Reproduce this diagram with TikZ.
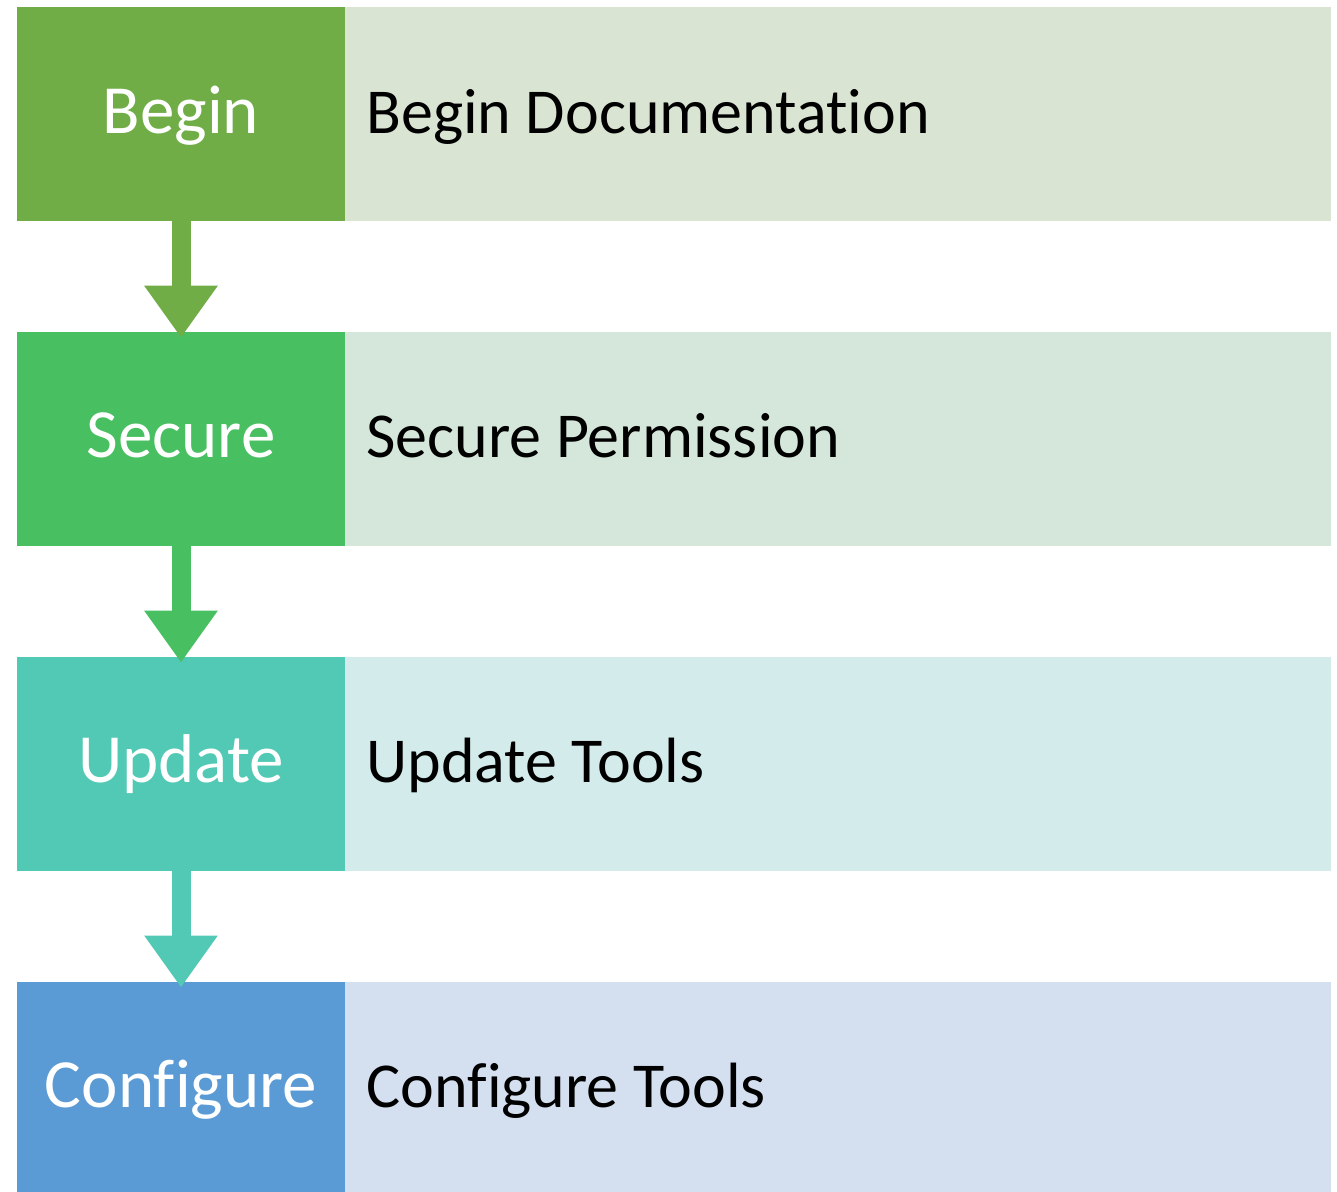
\documentclass[tikz,border=0pt]{standalone}
\usepackage{fontspec}
\setmainfont[Ligatures=CommonOff]{Carlito}
\usetikzlibrary{positioning,arrows.meta}

\definecolor{beginDark}{HTML}{70AD47}
\definecolor{beginLight}{HTML}{D9E4D3}
\definecolor{secureDark}{HTML}{48BF61}
\definecolor{secureLight}{HTML}{D4E7DA}
\definecolor{updateDark}{HTML}{52C9B5}
\definecolor{updateLight}{HTML}{D4EBEB}
\definecolor{configDark}{HTML}{5B9BD5}
\definecolor{configLight}{HTML}{D4E0EF}

\tikzset{
  stepbox/.style={minimum width=328, minimum height=214, inner sep=0,
    text=white, text height=50, text depth=12,
    font=\fontsize{69}{76}\selectfont},
  descbox/.style={minimum height=214, text width=944, inner xsep=21, inner ysep=0,
    align=flush left, text height=48, text depth=10,
    font=\fontsize{64}{72}\selectfont},
  steparrow/.style={line width=19, -{Triangle[width=70, length=52]}}
}

\begin{document}
\begin{tikzpicture}[x=1pt, y=-1pt]

\useasboundingbox (0,0) rectangle (1337,1191);

% Draw the step boxes down the left side
\node[stepbox, fill=beginDark] (begin) at (181,114) {Begin};
\node[stepbox, fill=secureDark, below=110.5pt of begin] (secure) {Secure};
\node[stepbox, fill=updateDark, below=110.5pt of secure] (update) {Update};
\node[stepbox, fill=configDark, below=110.5pt of update] (configure) {Configure};

% Draw the description bars next to them
\node[descbox, fill=beginLight, right=0pt of begin] (beginText) {Begin Documentation};
\node[descbox, fill=secureLight, right=0pt of secure] (secureText) {Secure Permission};
\node[descbox, fill=updateLight, right=0pt of update] (updateText) {Update Tools};
\node[descbox, fill=configLight, right=0pt of configure] (configureText) {Configure Tools};

% Draw arrows from one step to the next
\draw [steparrow, beginDark] (begin.south) -- ([yshift=-6]secure.north);
\draw [steparrow, secureDark] (secure.south) -- ([yshift=-6]update.north);
\draw [steparrow, updateDark] (update.south) -- ([yshift=-6]configure.north);

\end{tikzpicture}
\end{document}
